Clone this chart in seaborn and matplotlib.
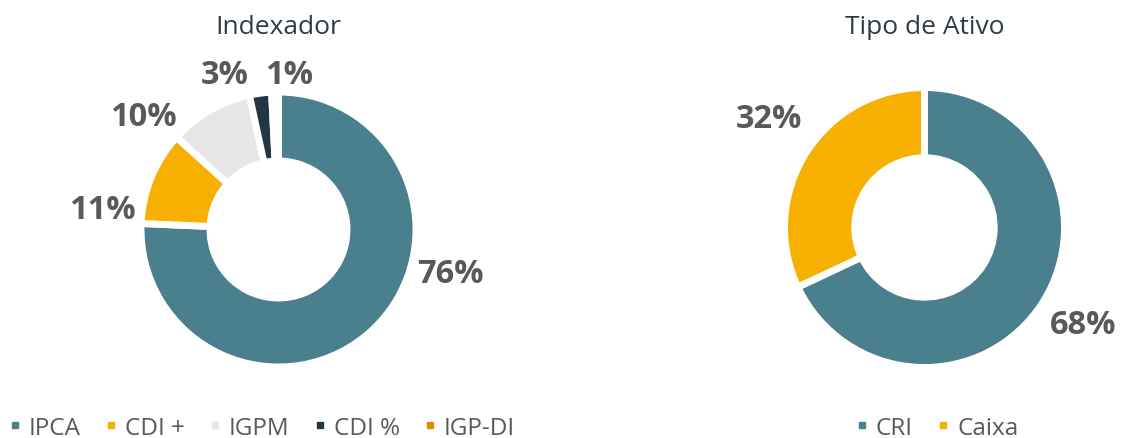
import matplotlib
matplotlib.use("Agg")
import matplotlib.pyplot as plt
from matplotlib.lines import Line2D
import seaborn as sns

# dados
idx_labels = ["IPCA", "CDI +", "IGPM", "CDI %", "IGP-DI"]
idx_values = [75.7, 11.0, 9.9, 2.6, 0.8]
idx_colors = ["#4A7F8E", "#F8B000", "#E6E6E6", "#233647", "#E68A00"]

ativo_labels = ["CRI", "Caixa"]
ativo_values = [68.0, 32.0]
ativo_colors = ["#4A7F8E", "#F8B000"]

# posicoes dos rotulos (em raios, relativas ao centro)
idx_label_pos = [(1.28, -0.33), (-1.317, 0.15), (-1.011, 0.84), (-0.403, 1.155), (0.078, 1.155)]
ativo_label_pos = [(1.161, -0.71), (-1.136, 0.80)]

W, H = 1121, 439
LABEL_COLOR = "#595959"
TITLE_COLOR = "#2E3C4A"

sns.set_theme(style="white")
plt.rcParams["font.family"] = ["Open Sans", "DejaVu Sans"]

fig = plt.figure(figsize=(W / 100, H / 100), dpi=100)


def donut(cx, cy, r, values, colors, label_pos, title):
    ax = fig.add_axes([(cx - r) / W, (H - cy - r) / H, 2 * r / W, 2 * r / H])
    edge = 3.5 / r
    ax.pie(values, colors=colors, startangle=90, counterclock=False,
           radius=1 + edge, wedgeprops=dict(width=0.515, edgecolor="white", linewidth=5))
    ax.set_xlim(-1, 1)
    ax.set_ylim(-1, 1)
    ax.set_aspect("equal")
    ax.axis("off")
    total = sum(values)
    for v, (x, y) in zip(values, label_pos):
        ax.text(x, y, f"{v / total * 100:.0f}%", ha="center", va="center",
                fontsize=23.5, fontweight="bold", color=LABEL_COLOR)
    fig.text(cx / W, (H - 27) / H, title, ha="center", va="center",
             fontsize=19, color=TITLE_COLOR)
    return ax


donut(278.5, 230.5, 134, idx_values, idx_colors, idx_label_pos, "Indexador")
donut(924.5, 228.5, 136.5, ativo_values, ativo_colors, ativo_label_pos, "Tipo de Ativo")


def legend(labels, colors, x0):
    handles = [Line2D([], [], linestyle="none", marker="s", markersize=4.5,
                      markerfacecolor=c, markeredgecolor=c) for c in colors]
    fig.legend(handles, labels, loc="center left", bbox_to_anchor=(x0 / W, 10 / H),
               ncol=len(labels), frameon=False, borderpad=0, borderaxespad=0,
               handlelength=0.5, handletextpad=0.32, columnspacing=1.0,
               fontsize=17.5, labelcolor=LABEL_COLOR)


legend(idx_labels, idx_colors, 8.5)
legend(ativo_labels, ativo_colors, 856)

fig.savefig("out.png", dpi=100)
